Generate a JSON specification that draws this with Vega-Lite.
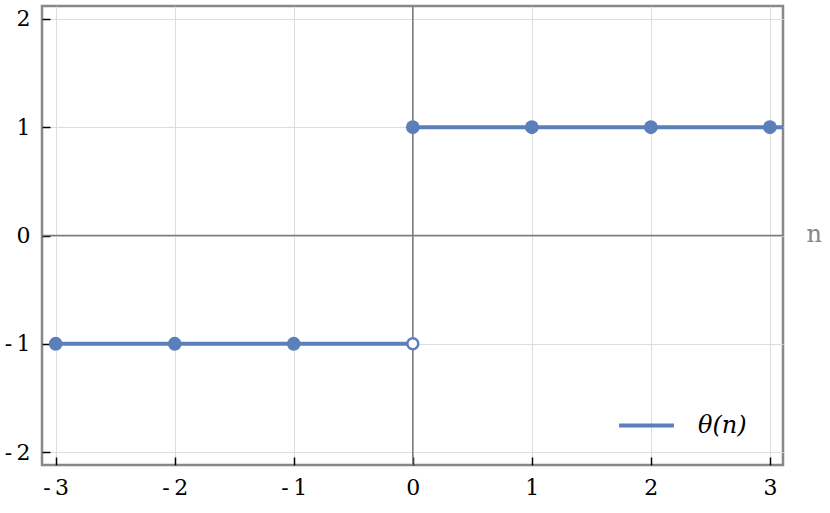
{
  "$schema": "https://vega.github.io/schema/vega-lite/v6.json",
  "width": 741,
  "height": 459,
  "autosize": "none",
  "padding": {"left": 42, "top": 6, "right": 47, "bottom": 48},
  "background": "white",
  "config": {
    "view": {"stroke": "#888888", "strokeWidth": 2.5},
    "font": "DejaVu Serif"
  },
  "datasets": {
    "steps": [
      {"n": -3, "v": -1, "seg": "a", "s": "θ(n)"},
      {"n": 0, "v": -1, "seg": "a", "s": "θ(n)"},
      {"n": 0, "v": 1, "seg": "b", "s": "θ(n)"},
      {"n": 3.3, "v": 1, "seg": "b", "s": "θ(n)"}
    ],
    "filled": [
      {"n": -3, "v": -1},
      {"n": -2, "v": -1},
      {"n": -1, "v": -1},
      {"n": 0, "v": 1},
      {"n": 1, "v": 1},
      {"n": 2, "v": 1},
      {"n": 3, "v": 1}
    ],
    "open": [{"n": 0, "v": -1}],
    "zero": [{"z": 0}]
  },
  "layer": [
    {
      "data": {"name": "zero"},
      "mark": {"type": "rule", "color": "#7a7a7a", "strokeWidth": 1.5},
      "encoding": {
        "x": {"field": "z", "type": "quantitative", "scale": {"domain": [-3.115, 3.11], "nice": false, "zero": false}}
      }
    },
    {
      "data": {"name": "zero"},
      "mark": {"type": "rule", "color": "#7a7a7a", "strokeWidth": 1.5},
      "encoding": {
        "y": {"field": "z", "type": "quantitative", "scale": {"domain": [-2.12, 2.12], "nice": false}}
      }
    },
    {
      "data": {"name": "steps"},
      "mark": {"type": "line", "strokeWidth": 4, "clip": true},
      "encoding": {
        "x": {
          "field": "n", "type": "quantitative",
          "scale": {"domain": [-3.115, 3.11], "nice": false, "zero": false},
          "axis": {
            "values": [-3, -2, -1, 0, 1, 2, 3],
            "format": "d",
            "labelExpr": "replace(datum.label, '−', '-\u2009')",
            "domain": false,
            "grid": true,
            "gridColor": "#dddddd",
            "gridWidth": 1,
            "ticks": true,
            "tickColor": "black",
            "tickWidth": 1.5,
            "tickSize": -8,
            "labelPadding": 20,
            "labelFontSize": 22,
            "labelColor": "black",
            "labelFont": "DejaVu Serif",
            "title": "n",
            "titleFont": "DejaVu Serif",
            "titleFontSize": 24,
            "titleFontWeight": "normal",
            "titleColor": "#888888",
            "titleX": 764,
            "titleY": -231,
            "titleAlign": "left",
            "titleBaseline": "middle",
            "titleAngle": 0
          }
        },
        "y": {
          "field": "v", "type": "quantitative",
          "scale": {"domain": [-2.12, 2.12], "nice": false},
          "axis": {
            "values": [-2, -1, 0, 1, 2],
            "format": "d",
            "labelExpr": "replace(datum.label, '−', '-\u2009')",
            "domain": false,
            "grid": true,
            "gridColor": "#dddddd",
            "gridWidth": 1,
            "ticks": true,
            "tickColor": "black",
            "tickWidth": 1.5,
            "tickSize": -8,
            "labelPadding": 20,
            "labelFontSize": 22,
            "labelColor": "black",
            "labelFont": "DejaVu Serif",
            "title": null
          }
        },
        "detail": {"field": "seg"},
        "color": {
          "field": "s", "type": "nominal",
          "scale": {"range": ["#5b7fba"]},
          "legend": {
            "title": null,
            "orient": "none",
            "legendX": 575,
            "legendY": 390,
            "symbolType": "stroke",
            "symbolStrokeWidth": 4,
            "symbolSize": 3000,
            "labelFont": "DejaVu Serif",
            "labelFontStyle": "italic",
            "labelFontSize": 24,
            "labelColor": "black",
            "labelOffset": 22
          }
        }
      }
    },
    {
      "data": {"name": "filled"},
      "mark": {"type": "circle", "size": 190, "opacity": 1, "color": "#5b7fba"},
      "encoding": {
        "x": {"field": "n", "type": "quantitative"},
        "y": {"field": "v", "type": "quantitative"}
      }
    },
    {
      "data": {"name": "open"},
      "mark": {"type": "point", "shape": "circle", "size": 120, "filled": false, "fill": "white", "fillOpacity": 1, "stroke": "#5b7fba", "strokeWidth": 2.5, "opacity": 1},
      "encoding": {
        "x": {"field": "n", "type": "quantitative"},
        "y": {"field": "v", "type": "quantitative"}
      }
    }
  ]
}
